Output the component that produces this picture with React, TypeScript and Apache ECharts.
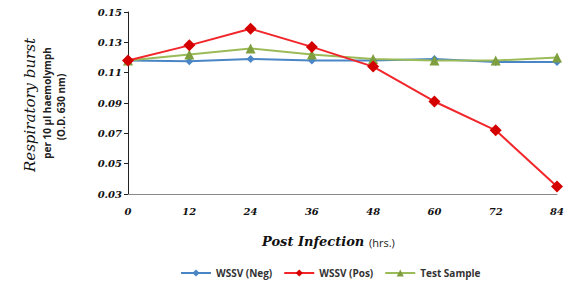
import React, { useEffect, useRef } from "react";
import * as echarts from "echarts";

const categories = ["0", "12", "24", "36", "48", "60", "72", "84"];
const wssvNeg = [0.118, 0.1175, 0.119, 0.118, 0.118, 0.119, 0.117, 0.117];
const wssvPos = [0.118, 0.128, 0.139, 0.127, 0.114, 0.091, 0.072, 0.035];
const testSample = [0.118, 0.122, 0.126, 0.122, 0.119, 0.118, 0.118, 0.12];
const yTicks = { min: 0.03, max: 0.15, interval: 0.02 };

export default function App() {
  const ref = useRef<HTMLDivElement>(null);
  useEffect(() => {
    if (!ref.current) return;
    const chart = echarts.init(ref.current, undefined, { renderer: "svg" });
    chart.setOption({
      animation: false,
      backgroundColor: "#fff",
      grid: { left: 128, right: 19, top: 12, bottom: 95 },
      xAxis: {
        type: "category",
        data: categories,
        boundaryGap: false,
        axisLine: { lineStyle: { color: "#888", width: 1 } },
        axisTick: { show: false },
        axisLabel: {
          margin: 12,
          fontFamily: "DejaVu Serif",
          fontStyle: "italic",
          fontWeight: "bold",
          fontSize: 10,
          color: "#111",
        },
      },
      yAxis: {
        type: "value",
        min: yTicks.min,
        max: yTicks.max,
        interval: yTicks.interval,
        splitLine: { show: false },
        axisLine: { show: true, lineStyle: { color: "#222", width: 1 } },
        axisTick: { show: true, length: 4, lineStyle: { color: "#222" } },
        axisLabel: {
          margin: 6,
          formatter: (v: number) => v.toFixed(2),
          fontFamily: "DejaVu Serif",
          fontStyle: "italic",
          fontWeight: "bold",
          fontSize: 10,
          color: "#111",
        },
      },
      legend: {
        top: 263,
        left: 175,
        itemWidth: 30,
        itemHeight: 9,
        itemGap: 11,
        textStyle: { fontFamily: "Open Sans", fontWeight: "bold", fontSize: 10, color: "#333" },
        data: ["WSSV (Neg)", "WSSV (Pos)", "Test Sample"],
      },
      series: [
        {
          name: "WSSV (Neg)",
          type: "line",
          data: wssvNeg,
          color: "#4a86c5",
          lineStyle: { width: 2, color: "#4a86c5" },
          symbol: "diamond",
          symbolSize: 8,
          itemStyle: { color: "#4a86c5" },
        },
        {
          name: "Test Sample",
          type: "line",
          data: testSample,
          color: "#8db54a",
          lineStyle: { width: 2, color: "#9bbb59" },
          symbol: "triangle",
          symbolSize: 10,
          itemStyle: { color: "#7f9f3e" },
        },
        {
          name: "WSSV (Pos)",
          type: "line",
          data: wssvPos,
          color: "#e8101a",
          lineStyle: { width: 2, color: "#f2262a" },
          symbol: "diamond",
          symbolSize: 12,
          itemStyle: { color: "#d40000" },
          z: 3,
        },
      ],
      graphic: [
        {
          type: "text",
          x: 30,
          y: 105,
          rotation: Math.PI / 2,
          style: {
            text: "Respiratory burst",
            fontFamily: "DejaVu Serif",
            fontStyle: "italic",
            fontSize: 15,
            fill: "#111",
            align: "center",
            verticalAlign: "middle",
          },
        },
        {
          type: "text",
          x: 47,
          y: 103,
          rotation: Math.PI / 2,
          style: {
            text: "per 10 µl haemolymph",
            fontFamily: "Open Sans",
            fontWeight: "bold",
            fontSize: 10,
            fill: "#222",
            align: "center",
            verticalAlign: "middle",
          },
        },
        {
          type: "text",
          x: 61,
          y: 107,
          rotation: Math.PI / 2,
          style: {
            text: "(O.D. 630 nm)",
            fontFamily: "Open Sans",
            fontWeight: "bold",
            fontSize: 10,
            fill: "#222",
            align: "center",
            verticalAlign: "middle",
          },
        },
        {
          type: "text",
          x: 262,
          y: 241,
          style: {
            text: "Post Infection",
            fontFamily: "DejaVu Serif",
            fontStyle: "italic",
            fontWeight: "bold",
            fontSize: 13,
            fill: "#111",
            align: "left",
            verticalAlign: "middle",
          },
        },
        {
          type: "text",
          x: 369,
          y: 242,
          style: {
            text: "(hrs.)",
            fontFamily: "Open Sans",
            fontSize: 11,
            fill: "#222",
            align: "left",
            verticalAlign: "middle",
          },
        },
      ],
    });
    return () => chart.dispose();
  }, []);
  return <div ref={ref} style={{ width: 576, height: 289, margin: -8 }} />;
}
